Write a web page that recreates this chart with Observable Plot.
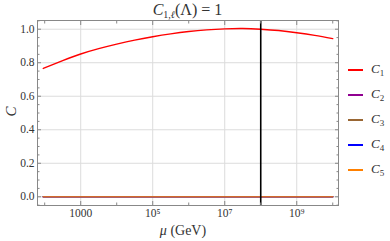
<!DOCTYPE html>
<html><head><meta charset="utf-8">
<script src="https://cdn.jsdelivr.net/npm/d3@7"></script>
<script src="https://cdn.jsdelivr.net/npm/@observablehq/plot@0.6"></script>
<style>
body{margin:0;background:#fff;}
#wrap{position:relative;width:390px;height:241px;font-family:"Liberation Serif","Tinos","Times New Roman","DejaVu Serif","Noto Serif",serif;color:#333;}
.ov{position:absolute;white-space:nowrap;line-height:1;}
.leg{position:absolute;white-space:nowrap;line-height:1;font-size:13px;}
.leg i{font-style:italic;}
.leg sub{font-size:9px;vertical-align:-3px;}
.sw{position:absolute;height:1.6px;width:15px;}
svg text{font-family:"Liberation Serif","Tinos","Times New Roman","DejaVu Serif","Noto Serif",serif !important;}
</style></head><body><div id="wrap"></div>
<script>
// x values (GeV) for the C1 curve
const mu = [91.2, 316, 1e3, 3.16e3, 1e4, 3.16e4, 1e5, 3.16e5, 1e6, 3.16e6, 1e7, 3.16e7, 1e8, 3.16e8, 1e9, 3.16e9, 1e10];
const C1 = [0.766, 0.812, 0.852, 0.884, 0.911, 0.935, 0.955, 0.972, 0.986, 0.996, 1.002, 1.004, 1.0, 0.992, 0.979, 0.963, 0.944];
// the other coefficients stay at zero over the range
const muFlat = [91.2, 1e10];
const C2 = [0, 0];
const C3 = [0, 0];
const C4 = [0, 0];
const C5 = [0, 0];
const seriesNames = ["C1", "C2", "C3", "C4", "C5"];
const seriesColors = ["#ff0000", "#900090", "#996633", "#0000ff", "#ff8000"];
const lambdaScale = 1e8;
const xMajor = [1e3, 1e5, 1e7, 1e9];
const xMinor = [1e2, 1e4, 1e6, 1e8, 1e10];
const xTickLabels = ["1000", "10⁵", "10⁷", "10⁹"];
const yMajor = [0, 0.2, 0.4, 0.6, 0.8, 1.0];
const yMinor = [0.05,0.1,0.15,0.25,0.3,0.35,0.45,0.5,0.55,0.65,0.7,0.75,0.85,0.9,0.95,1.05,-0.05];

const seriesVals = [C1, C2, C3, C4, C5];
const lines = seriesVals.map((vals, i) => {
  const xs = i === 0 ? mu : muFlat;
  return xs.map((x, j) => ({x, y: vals[j], s: seriesNames[i]}));
});

const fmtX = d => xTickLabels[xMajor.indexOf(d)];
const plot = Plot.plot({
  width: 390, height: 241,
  marginLeft: 37, marginRight: 52, marginTop: 20, marginBottom: 36,
  x: {type: "log", domain: [10 ** 1.8, 10 ** 10.16]},
  y: {domain: [-0.052, 1.052]},
  style: {fontFamily: "'Liberation Serif', 'DejaVu Serif', serif", fontSize: "11.5px", color: "#333", background: "#fff"},
  marks: [
    Plot.gridX(xMajor, {stroke: "#dcdcdc", strokeOpacity: 1}),
    Plot.gridY(yMajor, {stroke: "#dcdcdc", strokeOpacity: 1}),
    Plot.line(lines[1], {x: "x", y: "y", stroke: seriesColors[1], strokeWidth: 1.6, strokeOpacity: 0.8}),
    Plot.line(lines[2], {x: "x", y: "y", stroke: seriesColors[2], strokeWidth: 1.6, strokeOpacity: 0.8}),
    Plot.line(lines[3], {x: "x", y: "y", stroke: seriesColors[3], strokeWidth: 1.6, strokeOpacity: 0.8}),
    Plot.line(lines[4], {x: "x", y: "y", stroke: seriesColors[4], strokeWidth: 1.6, strokeOpacity: 0.8}),
    Plot.line(lines[0], {x: "x", y: "y", stroke: seriesColors[0], strokeWidth: 1.4, curve: "natural"}),
    Plot.ruleX([lambdaScale], {stroke: "#000", strokeWidth: 1.6}),
    Plot.frame({stroke: "#888"}),
    Plot.axisX(xMajor, {tickSize: 0, tickPadding: 3, tickFormat: fmtX, label: null}),
    Plot.axisX(xMajor, {tickSize: -4, text: null, label: null, stroke: "#888"}),
    Plot.axisX(xMinor, {tickSize: -2.5, text: null, label: null, stroke: "#888"}),
    Plot.axisX(xMajor, {anchor: "top", tickSize: -4, text: null, label: null, stroke: "#888"}),
    Plot.axisX(xMinor, {anchor: "top", tickSize: -2.5, text: null, label: null, stroke: "#888"}),
    Plot.axisY(yMajor, {tickSize: 0, tickPadding: 3, tickFormat: d => d.toFixed(1), label: null}),
    Plot.axisY(yMajor, {tickSize: -4, text: null, label: null, stroke: "#888"}),
    Plot.axisY(yMinor, {tickSize: -2.5, text: null, label: null, stroke: "#888"}),
    Plot.axisY(yMajor, {anchor: "right", tickSize: -4, text: null, label: null, stroke: "#888"}),
    Plot.axisY(yMinor, {anchor: "right", tickSize: -2.5, text: null, label: null, stroke: "#888"})
  ]
});
const wrap = document.getElementById("wrap");
wrap.appendChild(plot);

function ov(html, style, cls = "ov") {
  const d = document.createElement("div");
  d.className = cls;
  d.innerHTML = html;
  Object.assign(d.style, style);
  wrap.appendChild(d);
  return d;
}
// title
ov('<i>C</i><sub style="font-size:10px;vertical-align:-3px">1,<i>ℓ</i></sub>(Λ) = 1',
   {left: "37px", width: "301px", textAlign: "center", top: "2px", fontSize: "16px"});
// y label
ov('<i>C</i>', {left: "6px", top: "104px", fontSize: "15px", transform: "rotate(-90deg)"});
// x label
ov('<i>μ</i> (GeV)', {left: "37px", width: "292px", textAlign: "center", top: "224px", fontSize: "14px"});
// legend
const legTop = 70, legStep = 25;
seriesNames.forEach((name, i) => {
  const y = legTop + i * legStep;
  const sw = document.createElement("div");
  sw.className = "sw";
  Object.assign(sw.style, {left: "348px", top: (y - 0.8) + "px", background: seriesColors[i]});
  wrap.appendChild(sw);
  ov('<i>C</i><sub>' + name.slice(1) + '</sub>', {left: "371px", top: (y - 8) + "px"}, "leg");
});
</script></body></html>
